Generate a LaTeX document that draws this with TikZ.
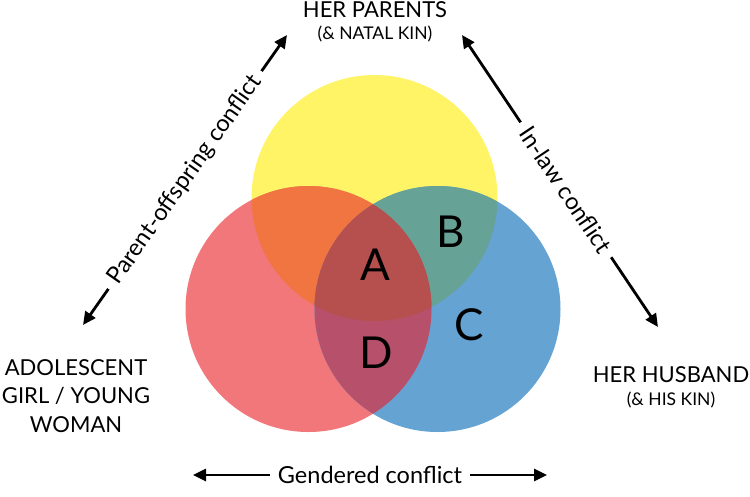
\documentclass[tikz,border=0pt]{standalone}
\usepackage{fontspec}
\setmainfont{Lato}
\usetikzlibrary{arrows.meta, positioning}
\definecolor{cyellow}{HTML}{FFF466}
\definecolor{cred}{HTML}{F2777B}
\definecolor{cblue}{HTML}{65A3D3}
\definecolor{corange}{HTML}{F07540}
\definecolor{cteal}{HTML}{66A296}
\definecolor{cplum}{HTML}{B7506A}
\definecolor{cbrick}{HTML}{B5504F}
\tikzset{
  every picture/.style={font=\fontsize{22}{26}\selectfont},
  party/.style={align=center, font=\fontsize{22}{28.5}\selectfont, inner sep=0pt},
  kin/.style={font=\fontsize{17.5}{20}\selectfont, inner sep=0pt},
  region/.style={font=\fontsize{44}{44}\selectfont, inner sep=0pt},
  conflict/.style={{Triangle[length=13pt, width=12pt]}-{Triangle[length=13pt, width=12pt]}, line width=2.8pt},
  tag/.style={font=\fontsize{23.5}{27}\selectfont, fill=white, inner sep=8pt},
}

\begin{document}
\begin{tikzpicture}[x=1pt, y=-1pt]
  \useasboundingbox (0,0) rectangle (750,496);
  \coordinate (yc) at (374.5,198);
  \coordinate (rc) at (308.5,309);
  \coordinate (bc) at (437.5,309);
  \def\rad{123pt}
  \foreach \c/\col in {yc/cyellow, rc/cred, bc/cblue}
    \fill[\col] (\c) circle[radius=\rad];
  \begin{scope}
    \clip (yc) circle[radius=\rad];
    \fill[corange] (rc) circle[radius=\rad];
    \fill[cteal] (bc) circle[radius=\rad];
  \end{scope}
  \begin{scope}
    \clip (rc) circle[radius=\rad];
    \fill[cplum] (bc) circle[radius=\rad];
    \clip (yc) circle[radius=\rad];
    \fill[cbrick] (bc) circle[radius=\rad];
  \end{scope}
  \foreach \n/\x/\y in {A/375/265, B/451/232, C/469/325, D/376/353}
    \node[region] (reg\n) at (\x,\y) {\n};

  \node[party] (parents) at (375,10) {HER PARENTS};
  \node[kin] (parentskin) at (375,34) {(\& NATAL KIN)};
  \node[party] (girl) at (76,396) {ADOLESCENT\\GIRL / YOUNG\\WOMAN};
  \node[party] (husband) at (671,374.5) {HER HUSBAND};
  \node[kin] (husbandkin) at (671,399.5) {(\& HIS KIN)};

  \coordinate (girl-tip) at (83,325);
  \coordinate (parents-tipl) at (287,35);
  \coordinate (parents-tipr) at (462,35);
  \coordinate (husband-tip) at (658,327);
  \coordinate (gender-l) at (193,475);
  \coordinate (gender-r) at (547,475);
  \draw[conflict] (girl-tip) -- node[tag, sloped] (pocon) {Parent-offspring conflict} (parents-tipl);
  \draw[conflict] (parents-tipr) -- node[tag, sloped, pos=0.53] (ilcon) {In-law conflict} (husband-tip);
  \draw[conflict] (gender-l) -- node[tag] (gcon) {Gendered conflict} (gender-r);
\end{tikzpicture}
\end{document}
